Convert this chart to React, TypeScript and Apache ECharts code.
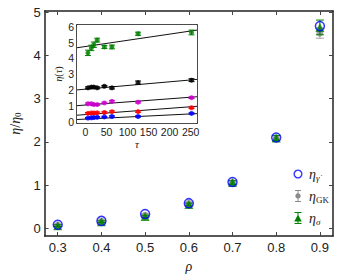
import React, { useEffect, useRef } from 'react';
import * as echarts from 'echarts';

const rho = [0.3, 0.4, 0.5, 0.6, 0.7, 0.8, 0.9];
const etaGdot = [0.08, 0.17, 0.33, 0.58, 1.07, 2.1, 4.68];
const etaGK = [0.07, 0.16, 0.3, 0.57, 1.06, 2.08, 4.52];
const etaGKErr = [0.02, 0.02, 0.03, 0.03, 0.04, 0.06, 0.12];
const etaSigma = [0.06, 0.15, 0.27, 0.55, 1.06, 2.09, 4.65];
const etaSigmaErr = [0.02, 0.02, 0.03, 0.03, 0.04, 0.06, 0.17];

const mainXTicks = [0.3, 0.4, 0.5, 0.6, 0.7, 0.8, 0.9];
const mainYTicks = [0, 1, 2, 3, 4, 5];
const insetXTicks = [0, 50, 100, 150, 200, 250];
const insetYTicks = [0, 1, 2, 3, 4, 5, 6];

const tau = [6, 14, 20, 28, 45, 63, 125, 252];
const insetGreen = [4.35, 4.66, 4.86, 5.15, 4.72, 4.72, 5.55, 5.63];
const insetGreenErr = [0.17, 0.17, 0.17, 0.12, 0.1, 0.12, 0.1, 0.15];
const insetBlack = [2.15, 2.2, 2.2, 2.15, 2.25, 2.15, 2.48, 2.63];
const insetBlackErr = [0.06, 0.06, 0.06, 0.06, 0.05, 0.07, 0.1, 0.09];
const insetMagenta = [1.15, 1.15, 1.1, 1.1, 1.2, 1.3, 1.25, 1.53];
const insetMagentaErr = [0.05, 0.05, 0.05, 0.05, 0.05, 0.06, 0.05, 0.05];
const insetRed = [0.55, 0.57, 0.57, 0.58, 0.6, 0.65, 0.66, 0.9];
const insetRedErr = [0.05, 0.05, 0.05, 0.05, 0.05, 0.05, 0.05, 0.05];
const insetBlue = [0.25, 0.27, 0.28, 0.3, 0.32, 0.35, 0.35, 0.54];
const insetBlueErr = [0.04, 0.04, 0.04, 0.04, 0.04, 0.04, 0.04, 0.04];

const fitTau = [-20, 265];
const fitGreen = [4.67, 5.78];
const fitBlack = [2.02, 2.68];
const fitMagenta = [1.03, 1.59];
const fitRed = [0.43, 0.99];
const fitBlue = [0.16, 0.53];

const SANS = 'Liberation Sans';
const SERIF = 'Liberation Serif';

function errRender(capW: number) {
  return (params: any, api: any) => {
    const x = api.value(0);
    const lo = api.value(1);
    const hi = api.value(2);
    const p1 = api.coord([x, lo]);
    const p2 = api.coord([x, hi]);
    const style = { stroke: api.visual('color'), lineWidth: 1 };
    return {
      type: 'group',
      children: [
        { type: 'line', shape: { x1: p1[0], y1: p1[1], x2: p2[0], y2: p2[1] }, style },
        { type: 'line', shape: { x1: p1[0] - capW, y1: p1[1], x2: p1[0] + capW, y2: p1[1] }, style },
        { type: 'line', shape: { x1: p2[0] - capW, y1: p2[1], x2: p2[0] + capW, y2: p2[1] }, style },
      ],
    };
  };
}

function errData(xs: number[], ys: number[], es: number[]) {
  return xs.map((x, i) => [x, ys[i] - es[i], ys[i] + es[i]]);
}

function pairs(xs: number[], ys: number[]) {
  return xs.map((x, i) => [x, ys[i]]);
}

const BOX = 'M0,0h0.02v0.02h-0.02z M11.98,11.98h0.02v0.02h-0.02z ';

export default function App() {
  const ref = useRef<HTMLDivElement>(null);
  useEffect(() => {
    if (!ref.current) return;
    const chart = echarts.init(ref.current, null, { renderer: 'svg' });
    const axisLineMain = { show: true, onZero: false, lineStyle: { color: '#222', width: 1.5 } };
    const axisLineInset = { show: true, onZero: false, lineStyle: { color: '#111', width: 1.5 } };
    const insetColors = ['#008000', '#000000', '#cc00cc', '#ff0000', '#0000ff'];
    const insetVals = [insetGreen, insetBlack, insetMagenta, insetRed, insetBlue];
    const insetErrs = [insetGreenErr, insetBlackErr, insetMagentaErr, insetRedErr, insetBlueErr];
    const fits = [fitGreen, fitBlack, fitMagenta, fitRed, fitBlue];

    const series: any[] = [];
    fits.forEach((f) => {
      series.push({
        type: 'line',
        xAxisIndex: 2,
        yAxisIndex: 2,
        data: pairs(fitTau, f),
        symbol: 'none',
        lineStyle: { color: '#111', width: 1 },
        silent: true,
        z: 3,
      });
    });
    insetVals.forEach((v, k) => {
      series.push({
        type: 'custom',
        xAxisIndex: 2,
        yAxisIndex: 2,
        renderItem: errRender(3),
        data: errData(tau, v, insetErrs[k]),
        encode: { x: 0, y: [1, 2] },
        itemStyle: { color: insetColors[k] },
        z: 4,
      });
      series.push({
        type: 'scatter',
        xAxisIndex: 2,
        yAxisIndex: 2,
        data: pairs(tau, v),
        symbol: 'circle',
        symbolSize: 5,
        itemStyle: { color: insetColors[k] },
        z: 5,
      });
    });
    series.push({
      type: 'custom',
      name: 'gk',
      renderItem: errRender(4),
      data: errData(rho, etaGK, etaGKErr),
      encode: { x: 0, y: [1, 2] },
      itemStyle: { color: '#a0a0a0' },
      z: 4,
    });
    series.push({
      type: 'scatter',
      name: 'gk',
      data: pairs(rho, etaGK),
      symbol: 'circle',
      symbolSize: 7,
      itemStyle: { color: '#8a8a8a' },
      z: 5,
    });
    series.push({
      type: 'custom',
      name: 'sigma',
      renderItem: errRender(4),
      data: errData(rho, etaSigma, etaSigmaErr),
      encode: { x: 0, y: [1, 2] },
      itemStyle: { color: '#008000' },
      z: 6,
    });
    series.push({
      type: 'scatter',
      name: 'sigma',
      data: pairs(rho, etaSigma),
      symbol: 'triangle',
      symbolSize: 9,
      itemStyle: { color: '#008000' },
      z: 7,
    });
    series.push({
      type: 'scatter',
      name: 'gdot',
      data: pairs(rho, etaGdot),
      symbol: 'circle',
      symbolSize: 9,
      itemStyle: { color: 'rgba(0,0,0,0)', borderColor: '#0000ff', borderWidth: 1.5 },
      z: 8,
    });

    const legendRich = {
      e: { fontFamily: SERIF, fontStyle: 'italic', fontSize: 14, color: '#222' },
      s: { fontFamily: SERIF, fontStyle: 'italic', fontSize: 9, color: '#222', padding: [7, 0, 0, 0] },
      r: { fontFamily: SERIF, fontSize: 9, color: '#222', padding: [7, 0, 0, 0] },
    };
    const nameMap: Record<string, string> = {
      gdot: '{e|η}{s|γ\u0307}',
      gk: '{e|η}{r|GK}',
      sigma: '{e|η}{s|σ}',
    };

    const option: any = {
      animation: false,
      backgroundColor: '#fff',
      grid: [
        { left: 44, top: 11, right: 7, bottom: 44 },
        { left: 77, top: 25, width: 120, height: 98, show: true, backgroundColor: '#fff', borderWidth: 0, z: 3 },
      ],
      legend: {
        orient: 'vertical',
        left: 287,
        top: 162,
        itemWidth: 12,
        itemHeight: 12,
        itemGap: 7,
        data: [
          { name: 'gdot', icon: 'path://' + BOX + 'M6,1.5 a4.5,4.5 0 1,1 -0.001,0 z M6,2.8 a3.2,3.2 0 1,0 0.001,0 z', itemStyle: { color: '#0000ff', borderWidth: 0 } },
          { name: 'gk', icon: 'path://' + BOX + 'M3,0h6v1h-6z M5.5,1h1v2.5h-1z M5.5,8.5h1v2.5h-1z M3,11h6v1h-6z M6,3.3 a2.7,2.7 0 1,1 -0.001,0z', itemStyle: { color: '#8a8a8a' } },
          { name: 'sigma', icon: 'path://' + BOX + 'M2.5,0h7v1h-7z M5.5,1h1v10h-1z M2.5,11h7v1h-7z M6,2.5 L9.8,9.5 L2.2,9.5z', itemStyle: { color: '#008000' } },
        ],
        formatter: (n: string) => nameMap[n],
        textStyle: { rich: legendRich },
      },
      xAxis: [
        {
          type: 'value', gridIndex: 0, position: 'bottom', min: 0.27, max: 0.93,
          axisLine: axisLineMain,
          axisTick: { inside: true, length: 4, customValues: mainXTicks, lineStyle: { color: '#444' } },
          axisLabel: { customValues: mainXTicks, formatter: (v: number) => v.toFixed(1), fontFamily: SANS, fontSize: 13, color: '#222', margin: 5 },
          splitLine: { show: false },
          name: 'ρ', nameLocation: 'middle', nameGap: 23,
          nameTextStyle: { fontFamily: SERIF, fontStyle: 'italic', fontSize: 14, color: '#222' },
        },
        {
          type: 'value', gridIndex: 0, position: 'top', min: 0.27, max: 0.93,
          axisLine: axisLineMain,
          axisTick: { inside: true, length: 4, customValues: mainXTicks, lineStyle: { color: '#444' } },
          axisLabel: { show: false }, splitLine: { show: false },
        },
        {
          type: 'value', gridIndex: 1, position: 'bottom', min: -20, max: 265,
          axisLine: axisLineInset,
          axisTick: { inside: true, length: 3, customValues: insetXTicks, lineStyle: { color: '#222' } },
          axisLabel: { customValues: insetXTicks, fontFamily: SANS, fontSize: 10.5, color: '#222', margin: 3 },
          splitLine: { show: false },
          name: 'τ', nameLocation: 'middle', nameGap: 15,
          nameTextStyle: { fontFamily: SERIF, fontStyle: 'italic', fontSize: 11, color: '#222' },
        },
        {
          type: 'value', gridIndex: 1, position: 'top', min: -20, max: 265,
          axisLine: axisLineInset,
          axisTick: { inside: true, length: 3, customValues: insetXTicks, lineStyle: { color: '#222' } },
          axisLabel: { show: false }, splitLine: { show: false },
        },
      ],
      yAxis: [
        {
          type: 'value', gridIndex: 0, position: 'left', min: -0.18, max: 5.03,
          axisLine: axisLineMain,
          axisTick: { inside: true, length: 4, customValues: mainYTicks, lineStyle: { color: '#444' } },
          axisLabel: { customValues: mainYTicks, fontFamily: SANS, fontSize: 13, color: '#222', margin: 4 },
          splitLine: { show: false },
          name: '{i|η}{n|/}{i|η}{z|0}', nameLocation: 'middle', nameGap: 19,
          nameTextStyle: {
            rich: {
              i: { fontFamily: SERIF, fontStyle: 'italic', fontSize: 14, color: '#222' },
              n: { fontFamily: SERIF, fontSize: 14, color: '#222' },
              z: { fontFamily: SERIF, fontSize: 9, color: '#222', padding: [6, 0, 0, 0] },
            },
          },
        },
        {
          type: 'value', gridIndex: 0, position: 'right', min: -0.18, max: 5.03,
          axisLine: axisLineMain,
          axisTick: { inside: true, length: 4, customValues: mainYTicks, lineStyle: { color: '#444' } },
          axisLabel: { show: false }, splitLine: { show: false },
        },
        {
          type: 'value', gridIndex: 1, position: 'left', min: -0.06, max: 6.1,
          axisLine: axisLineInset,
          axisTick: { inside: true, length: 3, customValues: insetYTicks, lineStyle: { color: '#222' } },
          axisLabel: { customValues: insetYTicks, fontFamily: SANS, fontSize: 10.5, color: '#222', margin: 3 },
          splitLine: { show: false },
          name: '{i|η}{n|(}{i|τ}{n|)}', nameLocation: 'middle', nameGap: 14,
          nameTextStyle: {
            rich: {
              i: { fontFamily: SERIF, fontStyle: 'italic', fontSize: 10, color: '#222' },
              n: { fontFamily: SERIF, fontSize: 10, color: '#222' },
            },
          },
        },
        {
          type: 'value', gridIndex: 1, position: 'right', min: -0.06, max: 6.1,
          axisLine: axisLineInset,
          axisTick: { inside: true, length: 3, customValues: insetYTicks, lineStyle: { color: '#222' } },
          axisLabel: { show: false }, splitLine: { show: false },
        },
      ],
      series,
    };
    chart.setOption(option);
    return () => chart.dispose();
  }, []);
  return <div ref={ref} style={{ width: 340, height: 280, position: 'absolute', left: 0, top: 0 }} />;
}
